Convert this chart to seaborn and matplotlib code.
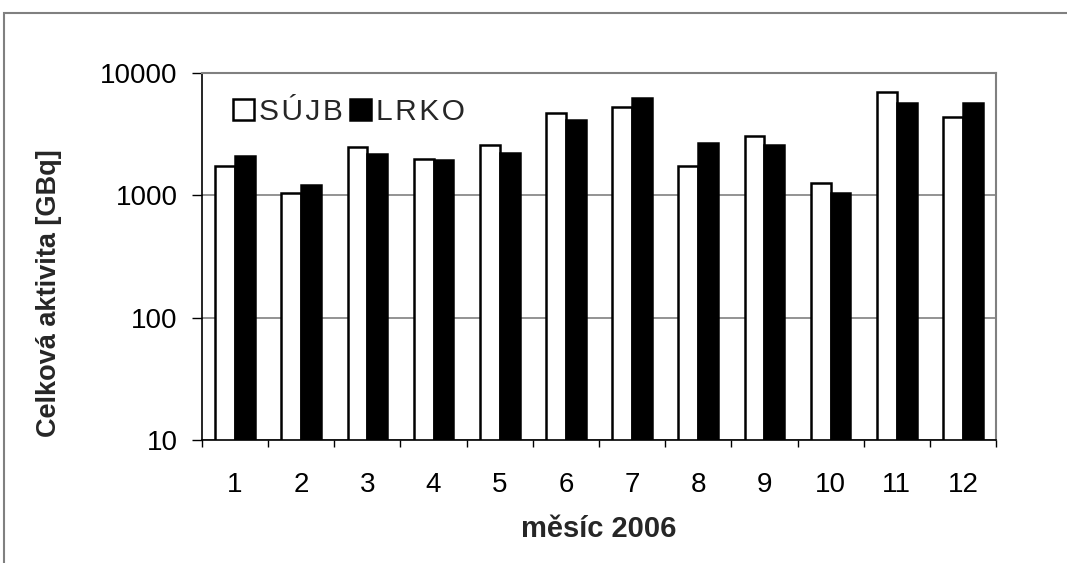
import matplotlib
matplotlib.use("Agg")
import matplotlib.pyplot as plt
import seaborn as sns
import pandas as pd
from matplotlib.patches import Rectangle
from matplotlib.ticker import FixedLocator, NullLocator, FixedFormatter

months = ["1", "2", "3", "4", "5", "6", "7", "8", "9", "10", "11", "12"]
sujb = [1730, 1045, 2465, 2000, 2560, 4745, 5250, 1730, 3070, 1255, 6980, 4375]
lrko = [2080, 1215, 2160, 1950, 2230, 4110, 6300, 2675, 2575, 1052, 5700, 5700]
series = ["SÚJB", "LRKO"]
yticks = [10, 100, 1000, 10000]

df = pd.DataFrame({
    "month": months * 2,
    "value": sujb + lrko,
    "series": [series[0]] * len(months) + [series[1]] * len(months),
})

sns.set_theme(style="white")
plt.rcParams["font.family"] = ["Liberation Sans", "DejaVu Sans"]

fig = plt.figure(figsize=(10.67, 5.63), dpi=100)
ax = fig.add_axes([0.1893, 0.2185, 0.9335 - 0.1893, 0.8703 - 0.2185])

sns.barplot(data=df, x="month", y="value", hue="series", order=months,
            hue_order=series, palette=["white", "black"], edgecolor="black",
            linewidth=1.8, width=0.6, ax=ax, saturation=1, errorbar=None)

ax.set_yscale("log")
ax.set_ylim(10, 10000)
ax.set_xlim(-0.5, len(months) - 0.5)
ax.yaxis.set_major_locator(FixedLocator(yticks))
ax.yaxis.set_major_formatter(FixedFormatter([str(v) for v in yticks]))
ax.yaxis.set_minor_locator(NullLocator())
ax.grid(axis="y", which="major", color="#808080", linewidth=1.2)
ax.set_axisbelow(True)

ax.xaxis.set_minor_locator(FixedLocator([i + 0.5 for i in range(-1, len(months))]))
ax.tick_params(axis="x", which="major", length=0, labelsize=20, pad=23, colors="black")
ax.tick_params(axis="x", which="minor", length=5, width=1, direction="out", color="black", bottom=True)
ax.tick_params(axis="y", which="major", length=7.2, width=1, direction="out", labelsize=20,
               pad=10.5, colors="black", left=True)

for s in ["left", "bottom"]:
    ax.spines[s].set_color("black")
    ax.spines[s].set_linewidth(1.2)
for s in ["top", "right"]:
    ax.spines[s].set_color("#808080")
    ax.spines[s].set_linewidth(1.5)
    ax.spines[s].set_visible(True)

ax.set_xlabel("měsíc 2006", fontsize=21, fontweight="bold", labelpad=12)
ax.set_ylabel("Celková aktivita [GBq]", fontsize=19.5, fontweight="bold")
ax.yaxis.set_label_coords(-0.176, 0.40)

leg = ax.legend(loc="upper left", bbox_to_anchor=(0.016, 0.98), frameon=False, ncol=2,
                fontsize=21.5, handlelength=0.7, handleheight=0.7, handletextpad=0.17,
                columnspacing=0.25, borderaxespad=0.2)
for t in leg.get_texts():
    t.set_text("\u200a".join(t.get_text()))

fig.patches.append(Rectangle((4 / 1067, -0.1), 1.2, 1.1 - 13 / 563,
                             transform=fig.transFigure, fill=False,
                             edgecolor="#808080", linewidth=1.5))

fig.savefig("out.png", dpi=100, facecolor="white")
